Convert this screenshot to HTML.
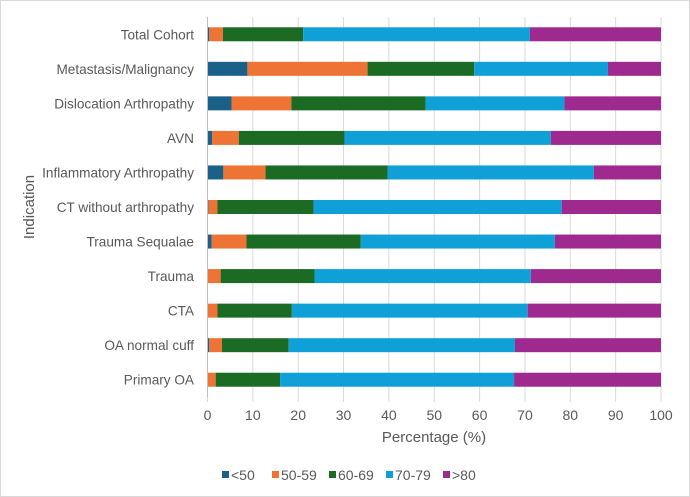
<!DOCTYPE html>
<html><head><meta charset="utf-8"><style>
body{margin:0;background:#fff;}
svg{display:block;font-family:"Liberation Sans",sans-serif;}
</style></head><body>
<svg id="chart" width="690" height="497">
<rect x="0.5" y="0.5" width="689" height="496" fill="#fff" stroke="#d9d9d9"/>
<g id="grid"></g><g id="bars"></g><g id="axes"></g><g id="legend"></g>
<text x="434" y="442" text-anchor="middle" font-size="15" fill="#595959">Percentage (%)</text>
<text transform="translate(34,207) rotate(-90)" text-anchor="middle" font-size="15" fill="#595959">Indication</text>
</svg>
<script>
const categories=["Total Cohort","Metastasis/Malignancy","Dislocation Arthropathy","AVN","Inflammatory Arthropathy","CT without arthropathy","Trauma Sequalae","Trauma","CTA","OA normal cuff","Primary OA"];
const seriesNames=["<50","50-59","60-69","70-79",">80"];
const lt50=[0.4,8.8,5.3,1.0,3.5,0.2,0.9,0,0.1,0.4,0.1];
const s5059=[3.0,26.5,13.2,5.9,9.3,2.0,7.7,2.9,2.1,2.8,1.7];
const s6069=[17.7,23.5,29.6,23.3,26.9,21.2,25.2,20.7,16.4,14.7,14.2];
const s7079=[50.0,29.5,30.6,45.5,45.5,54.7,42.8,47.7,52.0,49.9,51.6];
const gt80=[28.9,11.7,21.3,24.3,14.8,21.9,23.4,28.7,29.4,32.2,32.4];
const xTicks=[0,10,20,30,40,50,60,70,80,90,100];
const colors=["#1a6088","#ed7434","#1c6b24","#10a0d8","#9e2a90"];
const NS="http://www.w3.org/2000/svg";
const x0=207.5,x1=661,yTop=17,yBot=397,rowH=(yBot-yTop)/categories.length,barH=14;
const xs=v=>x0+(x1-x0)*v/100;
const yc=i=>yTop+rowH*(i+0.5);
function mk(t,a,p){const e=document.createElementNS(NS,t);for(const k in a)e.setAttribute(k,a[k]);p.appendChild(e);return e;}
const grid=document.getElementById('grid'),bars=document.getElementById('bars'),axes=document.getElementById('axes'),leg=document.getElementById('legend');
xTicks.forEach(t=>{
 const l=mk('line',{x1:xs(t),x2:xs(t),y1:yTop,y2:yBot+5,stroke:'#d9d9d9','stroke-width':1},grid);
 
 
 const tx=mk('text',{x:xs(t),y:420,'text-anchor':'middle','font-size':14,fill:'#595959'},axes);
 tx.textContent=t;
 
 
});
const series=[lt50,s5059,s6069,s7079,gt80];
categories.forEach((c,i)=>{
 let acc=0;
 series.forEach((s,j)=>{
  const v=s[i];
  const r=mk('rect',{x:xs(acc),y:yc(i)-barH/2,width:Math.max(0,xs(acc+v)-xs(acc)),height:barH,fill:colors[j]},bars);
  
  
  acc+=v;
 });
 const tx=mk('text',{x:194,y:yc(i)+5,'text-anchor':'end','font-size':13.6,fill:'#595959'},axes);
 tx.textContent=c;
 
 
});
const al=mk('line',{x1:x0,x2:x0,y1:yTop,y2:yBot,stroke:'#bfbfbf'},axes);


const lx=[222,272,329,386,443];
seriesNames.forEach((n,j)=>{
 const g=mk('g',{},leg);
 
 
 mk('rect',{x:lx[j],y:471,width:7,height:7,fill:colors[j]},g);
 const t=mk('text',{x:lx[j]+9,y:480,'font-size':14,fill:'#595959'},g);
 t.textContent=n;
});
</script>
</body></html>
